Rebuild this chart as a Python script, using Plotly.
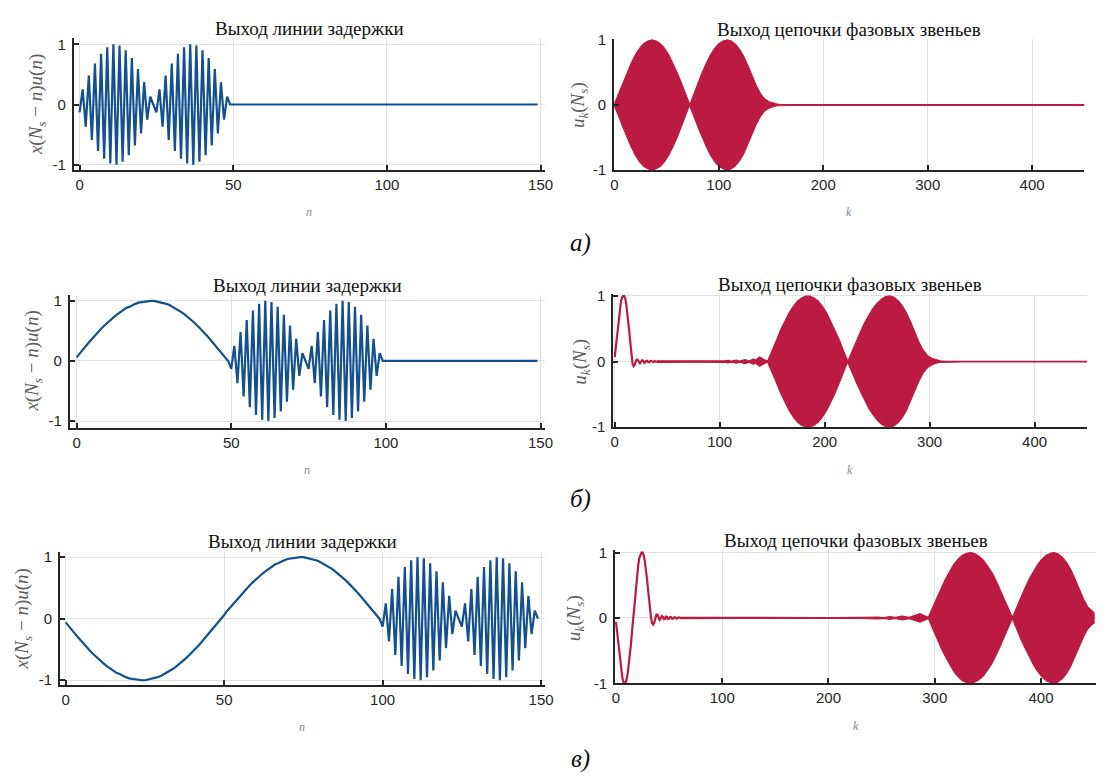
import plotly.graph_objects as go

# ---------------- delay-line contents x(N_s - n)u(n), n = 0..149 ----------------
N_IDX = list(range(150))

DELAY_A = [
    -0.13, 0.25, -0.37, 0.48, -0.59, 0.68, -0.77, 0.84, -0.90, 0.95, -0.98, 1.00, -1.00,
    0.98, -0.95, 0.90, -0.84, 0.77, -0.68, 0.59, -0.48, 0.37, -0.25, 0.13, 0.00,
    -0.13, 0.25, -0.37, 0.48, -0.59, 0.68, -0.77, 0.84, -0.90, 0.95, -0.98, 1.00, -1.00,
    0.98, -0.95, 0.90, -0.84, 0.77, -0.68, 0.59, -0.48, 0.37, -0.25, 0.13, 0.00,
    0, 0, 0, 0, 0, 0, 0, 0, 0, 0, 0, 0, 0, 0, 0, 0, 0, 0, 0, 0, 0, 0, 0, 0, 0,
    0, 0, 0, 0, 0, 0, 0, 0, 0, 0, 0, 0, 0, 0, 0, 0, 0, 0, 0, 0, 0, 0, 0, 0, 0,
    0, 0, 0, 0, 0, 0, 0, 0, 0, 0, 0, 0, 0, 0, 0, 0, 0, 0, 0, 0, 0, 0, 0, 0, 0,
    0, 0, 0, 0, 0, 0, 0, 0, 0, 0, 0, 0, 0, 0, 0, 0, 0, 0, 0, 0, 0, 0, 0, 0, 0,
]

DELAY_B = [
    0.06, 0.13, 0.19, 0.25, 0.31, 0.37, 0.43, 0.48, 0.54, 0.59, 0.64, 0.68, 0.73,
    0.77, 0.81, 0.84, 0.88, 0.90, 0.93, 0.95, 0.97, 0.98, 0.99, 1.00, 1.00,
    1.00, 0.99, 0.98, 0.97, 0.95, 0.93, 0.90, 0.88, 0.84, 0.81, 0.77, 0.73, 0.68,
    0.64, 0.59, 0.54, 0.48, 0.43, 0.37, 0.31, 0.25, 0.19, 0.13, 0.06, 0.00,
    -0.13, 0.25, -0.37, 0.48, -0.59, 0.68, -0.77, 0.84, -0.90, 0.95, -0.98, 1.00, -1.00,
    0.98, -0.95, 0.90, -0.84, 0.77, -0.68, 0.59, -0.48, 0.37, -0.25, 0.13, 0.00,
    -0.13, 0.25, -0.37, 0.48, -0.59, 0.68, -0.77, 0.84, -0.90, 0.95, -0.98, 1.00, -1.00,
    0.98, -0.95, 0.90, -0.84, 0.77, -0.68, 0.59, -0.48, 0.37, -0.25, 0.13, 0.00,
    0, 0, 0, 0, 0, 0, 0, 0, 0, 0, 0, 0, 0, 0, 0, 0, 0, 0, 0, 0, 0, 0, 0, 0, 0,
    0, 0, 0, 0, 0, 0, 0, 0, 0, 0, 0, 0, 0, 0, 0, 0, 0, 0, 0, 0, 0, 0, 0, 0, 0,
]

DELAY_C = [
    -0.06, -0.13, -0.19, -0.25, -0.31, -0.37, -0.43, -0.48, -0.54, -0.59, -0.64, -0.68, -0.73,
    -0.77, -0.81, -0.84, -0.88, -0.90, -0.93, -0.95, -0.97, -0.98, -0.99, -1.00, -1.00,
    -1.00, -0.99, -0.98, -0.97, -0.95, -0.93, -0.90, -0.88, -0.84, -0.81, -0.77, -0.73, -0.68,
    -0.64, -0.59, -0.54, -0.48, -0.43, -0.37, -0.31, -0.25, -0.19, -0.13, -0.06, 0.00,
    0.06, 0.13, 0.19, 0.25, 0.31, 0.37, 0.43, 0.48, 0.54, 0.59, 0.64, 0.68, 0.73,
    0.77, 0.81, 0.84, 0.88, 0.90, 0.93, 0.95, 0.97, 0.98, 0.99, 1.00, 1.00,
    1.00, 0.99, 0.98, 0.97, 0.95, 0.93, 0.90, 0.88, 0.84, 0.81, 0.77, 0.73, 0.68,
    0.64, 0.59, 0.54, 0.48, 0.43, 0.37, 0.31, 0.25, 0.19, 0.13, 0.06, 0.00,
    -0.13, 0.25, -0.37, 0.48, -0.59, 0.68, -0.77, 0.84, -0.90, 0.95, -0.98, 1.00, -1.00,
    0.98, -0.95, 0.90, -0.84, 0.77, -0.68, 0.59, -0.48, 0.37, -0.25, 0.13, 0.00,
    -0.13, 0.25, -0.37, 0.48, -0.59, 0.68, -0.77, 0.84, -0.90, 0.95, -0.98, 1.00, -1.00,
    0.98, -0.95, 0.90, -0.84, 0.77, -0.68, 0.59, -0.48, 0.37, -0.25, 0.13, 0.00,
]

# ---------------- phase-chain output u_k(N_s) ----------------
# Fast alternating samples are described by their envelope (|u_k|) at knots k.
ENV_A_K = [0, 1, 4, 8, 12, 16, 20, 24, 28, 32, 36, 40, 44, 48, 52, 56, 60, 64, 68, 71, 72,
           73, 76, 80, 84, 88, 92, 96, 100, 104, 108, 112, 116, 120, 124, 128, 132, 136,
           140, 144, 148, 152, 156, 160, 170, 450]
ENV_A_V = [0.02, 0.06, 0.17, 0.34, 0.50, 0.64, 0.77, 0.87, 0.94, 0.98, 1.00, 0.98, 0.94,
           0.87, 0.77, 0.64, 0.50, 0.34, 0.17, 0.04, 0.01,
           0.04, 0.17, 0.34, 0.50, 0.64, 0.77, 0.87, 0.94, 0.98, 1.00, 0.98, 0.93, 0.85,
           0.74, 0.60, 0.44, 0.29, 0.17, 0.09, 0.05, 0.025, 0.012, 0.007, 0.005, 0.005]

PULSE_B_K = list(range(41))
PULSE_B_V = [0.07, 0.22, 0.38, 0.54, 0.69, 0.82, 0.92, 0.98, 1.00, 1.00, 0.96, 0.88, 0.76,
             0.61, 0.44, 0.27, 0.10, -0.03, -0.07, -0.05, 0.00, 0.03, 0.025, -0.01, -0.025,
             0.00, 0.02, 0.015, -0.015, -0.015, 0.012, 0.012, -0.01, -0.01, 0.01, 0.008,
             -0.008, -0.008, 0.008, 0.006, -0.006]
ENV_B_K = [40, 60, 80, 100, 104, 108, 111, 116, 119, 124, 128, 132, 134, 138, 143, 145,
           146, 150, 154, 158, 162, 166, 170, 174, 178, 182, 186, 190, 194, 198, 202, 206,
           210, 214, 218, 221, 222, 223, 226, 230, 234, 238, 242, 246, 250, 254, 258, 262,
           266, 270, 274, 278, 282, 286, 290, 294, 298, 302, 306, 310, 314, 330, 450]
ENV_B_V = [0.012, 0.01, 0.01, 0.012, 0.01, 0.018, 0.008, 0.022, 0.008, 0.03, 0.01, 0.04,
           0.02, 0.07, 0.03, 0.01, 0.02, 0.16, 0.32, 0.48, 0.61, 0.74, 0.84, 0.92, 0.97,
           1.00, 1.00, 0.97, 0.92, 0.84, 0.74, 0.61, 0.48, 0.33, 0.16, 0.04, 0.01, 0.04,
           0.16, 0.31, 0.45, 0.59, 0.71, 0.81, 0.89, 0.95, 0.99, 1.00, 0.98, 0.93, 0.85,
           0.74, 0.60, 0.44, 0.29, 0.17, 0.09, 0.05, 0.025, 0.012, 0.007, 0.005, 0.005]

PULSE_C_K = list(range(61))
PULSE_C_V = [-0.06, -0.20, -0.38, -0.55, -0.70, -0.83, -0.92, -0.98, -1.00, -0.99, -0.94,
             -0.85, -0.73, -0.58, -0.41, -0.22, -0.03, 0.16, 0.35, 0.53, 0.69, 0.82, 0.92,
             0.98, 1.00, 1.00, 0.96, 0.88, 0.77, 0.62, 0.46, 0.29, 0.13, 0.00, -0.08, -0.10,
             -0.07, 0.00, 0.05, 0.05, 0.00, -0.03, -0.01, 0.03, 0.02, -0.02, -0.02, 0.02,
             0.015, -0.015, -0.01, 0.015, 0.01, -0.012, -0.008, 0.012, 0.006, -0.01, -0.005,
             0.01, 0.00]
ENV_C_K = [60, 100, 200, 230, 236, 240, 247, 252, 258, 263, 269, 276, 280, 286, 291, 294,
           298, 302, 306, 310, 314, 318, 322, 326, 330, 334, 338, 342, 346, 350, 354, 358,
           362, 366, 370, 373, 374, 377, 381, 385, 389, 393, 397, 401, 405, 409, 412, 416,
           420, 424, 428, 432, 436, 440, 444, 448, 450]
ENV_C_V = [0.01, 0.006, 0.006, 0.008, 0.012, 0.006, 0.015, 0.006, 0.02, 0.008, 0.03, 0.01,
           0.03, 0.065, 0.03, 0.01, 0.16, 0.31, 0.46, 0.59, 0.71, 0.82, 0.90, 0.96, 0.99,
           1.00, 0.98, 0.94, 0.88, 0.79, 0.69, 0.56, 0.42, 0.28, 0.12, 0.01, 0.04, 0.16,
           0.32, 0.46, 0.60, 0.72, 0.82, 0.90, 0.96, 0.99, 1.00, 0.98, 0.93, 0.85, 0.74,
           0.60, 0.44, 0.29, 0.17, 0.10, 0.08]

# ---------------- text ----------------
TITLE_LEFT = "Выход линии задержки"
TITLE_RIGHT = "Выход цепочки фазовых звеньев"
PANEL_LABELS = ["а)", "б)", "в)"]
YLABEL_LEFT = "<i>x</i>(<i>N</i><sub><i>s</i></sub> − <i>n</i>)<i>u</i>(<i>n</i>)"
YLABEL_RIGHT = "<i>u</i><sub><i>k</i></sub>(<i>N</i><sub><i>s</i></sub>)"

BLUE = "#13508d"
RED = "#bb1a43"
AXIS_COL = "#262626"
GRID_COL = "#e1e1e1"
SANS = "Arial"
SERIF = "Liberation Serif"

W, H = 1105, 780

# panel geometry (pixels) and axis ranges
PANELS = [
    dict(x0=70.7, x1=547, yt=31, yb=165, xr=[-1.86, 151.3], yr=[-1.081, 1.098], left=True),
    dict(x0=617.3, x1=1093.2, yt=31.7, yb=165.5, xr=[-0.4, 450], yr=[-1.0, 1.012], left=False),
    dict(x0=66.7, x1=547, yt=293, yb=428.3, xr=[-2.17, 151.3], yr=[-1.108, 1.098], left=True),
    dict(x0=616.7, x1=1096, yt=292, yb=428, xr=[-1.2, 450], yr=[-1.0, 1.03], left=False),
    dict(x0=56.7, x1=547, yt=555, yb=690.7, xr=[-1.8, 151.1], yr=[-1.07, 1.09], left=True),
    dict(x0=618.3, x1=1105, yt=553.3, yb=689.5, xr=[-0.93, 451.8], yr=[-1.0, 1.04], left=False),
]

fig = go.Figure()


def ax_names(i):
    return ("x" if i == 0 else f"x{i+1}"), ("y" if i == 0 else f"y{i+1}")


def add_line(i, xs, ys, color):
    xa, ya = ax_names(i)
    fig.add_trace(go.Scatter(x=xs, y=ys, mode="lines", xaxis=xa, yaxis=ya,
                             line=dict(color=color, width=2.2), showlegend=False,
                             hoverinfo="skip"))


def add_envelope(i, ks, env, color):
    xa, ya = ax_names(i)
    xs = list(ks) + list(ks)[::-1]
    ys = list(env) + [-v for v in env][::-1]
    fig.add_trace(go.Scatter(x=xs, y=ys, mode="lines", fill="toself", fillcolor=color,
                             xaxis=xa, yaxis=ya, line=dict(color=color, width=1.2),
                             showlegend=False, hoverinfo="skip"))


# left column: delay-line contents
add_line(0, N_IDX, DELAY_A, BLUE)
add_line(2, N_IDX, DELAY_B, BLUE)
add_line(4, N_IDX, DELAY_C, BLUE)

# right column: phase-chain output
add_envelope(1, ENV_A_K, ENV_A_V, RED)
add_envelope(3, ENV_B_K, ENV_B_V, RED)
add_line(3, PULSE_B_K, PULSE_B_V, RED)
add_envelope(5, ENV_C_K, ENV_C_V, RED)
add_line(5, PULSE_C_K, PULSE_C_V, RED)

layout = dict(width=W, height=H, margin=dict(l=0, r=0, t=0, b=0),
              paper_bgcolor="white", plot_bgcolor="white", showlegend=False,
              font=dict(family=SANS, size=15, color=AXIS_COL))

annotations = []
for i, p in enumerate(PANELS):
    xa, ya = ax_names(i)
    xkey = "xaxis" if i == 0 else f"xaxis{i+1}"
    ykey = "yaxis" if i == 0 else f"yaxis{i+1}"
    xt = [0, 50, 100, 150] if p["left"] else [0, 100, 200, 300, 400]
    common = dict(showline=True, linecolor=AXIS_COL, linewidth=2, showgrid=True,
                  gridcolor=GRID_COL, gridwidth=1, zeroline=False, ticks="inside",
                  ticklen=5, tickwidth=1.5, tickcolor=AXIS_COL,
                  tickfont=dict(family=SANS, size=15, color=AXIS_COL), fixedrange=True)
    layout[xkey] = dict(domain=[p["x0"] / W, min(p["x1"] / W, 1.0)], range=p["xr"],
                        anchor=ya, tickvals=xt, ticktext=[str(v) for v in xt], **common)
    layout[ykey] = dict(domain=[1 - p["yb"] / H, 1 - p["yt"] / H], range=p["yr"],
                        anchor=xa, tickvals=[-1, 0, 1], ticktext=["-1", "0", "1"],
                        ticklabelstandoff=3, **common)

    cx = (p["x0"] + p["x1"]) / 2
    # panel title
    annotations.append(dict(text=TITLE_LEFT if p["left"] else TITLE_RIGHT,
                            x=cx / W, y=1 - (p["yt"] - 10) / H, xref="paper", yref="paper",
                            xanchor="center", yanchor="middle", showarrow=False,
                            font=dict(family=SERIF, size=19, color="#111111")))
    # y-axis label, centred on y = 0
    ylab_x = {0: 33, 1: 582, 2: 29, 3: 583, 4: 19, 5: 578}[i]
    y0pix = p["yt"] + (p["yb"] - p["yt"]) * (p["yr"][1] - 0) / (p["yr"][1] - p["yr"][0])
    annotations.append(dict(text=YLABEL_LEFT if p["left"] else YLABEL_RIGHT,
                            x=ylab_x / W, y=1 - y0pix / H, xref="paper", yref="paper",
                            xanchor="center", yanchor="middle", textangle=-90,
                            showarrow=False,
                            font=dict(family=SERIF, size=19, color="#5c5c5c")))
    # x-axis label
    annotations.append(dict(text="<i>n</i>" if p["left"] else "<i>k</i>",
                            x=cx / W, y=1 - (p["yb"] + 34) / H, xref="paper", yref="paper",
                            xanchor="center", yanchor="top", showarrow=False,
                            font=dict(family=SERIF, size=12, color="#8a8a8a")))

for lab, ypix in zip(PANEL_LABELS, [240, 501, 767]):
    annotations.append(dict(text=f"<i>{lab}</i>", x=583 / W, y=1 - ypix / H,
                            xref="paper", yref="paper", xanchor="center",
                            yanchor="middle", showarrow=False,
                            font=dict(family=SERIF, size=25, color="#111111")))

layout["annotations"] = annotations
fig.update_layout(**layout)
fig.write_html("out.html")
